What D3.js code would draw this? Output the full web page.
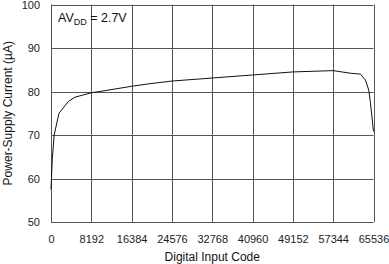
<!DOCTYPE html>
<html>
<head>
<meta charset="utf-8">
<script src="https://cdn.jsdelivr.net/npm/d3@7"></script>
<style>
  body { margin: 0; background: #fff; }
  svg { display: block; font-family: "Liberation Sans", Arial, sans-serif; }
  .tick text { font-size: 11px; fill: #222; }
  .grid line { stroke: #555; stroke-width: 1; }
</style>
</head>
<body>
<svg id="chart" width="389" height="264"></svg>
<script>
const codes = [0, 256, 640, 1628, 3520, 4885, 8192, 11000, 16384, 20150, 24576,
  32768, 40960, 49152, 57344, 60855, 62891, 63909, 64580, 64926, 65536];
const current = [57.5, 64.3, 70, 75, 77.7, 78.7, 79.7, 80.2, 81.2, 81.8, 82.4,
  83.1, 83.8, 84.5, 84.8, 84.2, 84, 82.6, 80.3, 77.3, 70.8];
const xTicks = [0, 8192, 16384, 24576, 32768, 40960, 49152, 57344, 65536];
const yTicks = [50, 60, 70, 80, 90, 100];

const svg = d3.select("#chart");
const margin = { top: 4.5, right: 15.5, bottom: 42, left: 51 };
const width = 389, height = 264;

const x = d3.scaleLinear().domain([0, 65536]).range([margin.left, width - margin.right]);
const y = d3.scaleLinear().domain([50, 100]).range([height - margin.bottom, margin.top]);

// grid
const grid = svg.append("g").attr("class", "grid");
grid.selectAll("line.h").data(yTicks).join("line")
  .attr("x1", x(0)).attr("x2", x(65536))
  .attr("y1", d => Math.round(y(d)) + 0.5).attr("y2", d => Math.round(y(d)) + 0.5);
grid.selectAll("line.v").data(xTicks).join("line")
  .attr("y1", y(100)).attr("y2", y(50))
  .attr("x1", d => Math.round(x(d)) + 0.5).attr("x2", d => Math.round(x(d)) + 0.5);

// axes (labels only)
svg.append("g")
  .attr("transform", `translate(${x(0)},0)`)
  .call(d3.axisLeft(y).tickValues(yTicks).tickSize(0).tickPadding(11))
  .call(g => g.select(".domain").remove());

svg.append("g")
  .attr("transform", `translate(0,${y(50)})`)
  .call(d3.axisBottom(x).tickValues(xTicks).tickSize(0).tickPadding(13).tickFormat(d3.format("d")))
  .call(g => g.select(".domain").remove());

// curve
const line = d3.line()
  .x((d, i) => x(codes[i]))
  .y(d => y(d));

svg.append("path")
  .datum(current)
  .attr("fill", "none")
  .attr("stroke", "#111")
  .attr("stroke-width", 1)
  .attr("d", line);

// annotation
const note = svg.append("text")
  .attr("x", x(0) + 7)
  .attr("y", 22)
  .attr("font-size", 12.5)
  .attr("fill", "#111");
note.append("tspan").text("AV");
note.append("tspan").attr("font-size", 9).attr("dy", 3).text("DD");
note.append("tspan").attr("dy", -3).text(" = 2.7V");

// axis titles
svg.append("text")
  .attr("x", (x(0) + x(65536)) / 2)
  .attr("y", 261)
  .attr("text-anchor", "middle")
  .attr("font-size", 12)
  .attr("fill", "#111")
  .text("Digital Input Code");

svg.append("text")
  .attr("transform", `translate(12,${(y(50) + y(100)) / 2}) rotate(-90)`)
  .attr("text-anchor", "middle")
  .attr("font-size", 12)
  .attr("fill", "#111")
  .text("Power-Supply Current (µA)");
</script>
</body>
</html>
